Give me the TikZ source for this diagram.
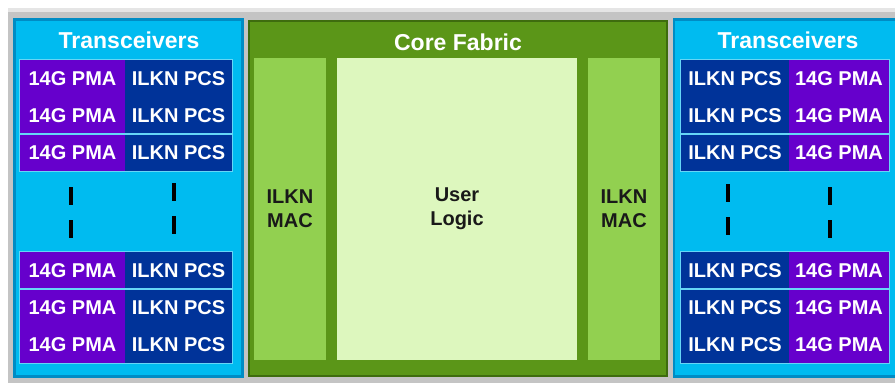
\documentclass[tikz,border=0pt]{standalone}
\usepackage{fontspec}
\setmainfont{Liberation Sans}

\definecolor{xcvr}{RGB}{0,187,240}
\definecolor{xcvrdark}{RGB}{0,140,196}
\definecolor{pmaviolet}{RGB}{102,0,204}
\definecolor{pcsblue}{RGB}{0,51,153}
\definecolor{fabric}{RGB}{91,150,24}
\definecolor{fabricdark}{RGB}{62,108,14}
\definecolor{macgreen}{RGB}{146,208,80}
\definecolor{logicgreen}{RGB}{221,247,190}
\definecolor{framegray}{RGB}{196,196,196}

\begin{document}
\begin{tikzpicture}[x=1pt, y=-1pt,
  cell/.style={rectangle, inner sep=0pt, minimum height=37pt, text=white,
    font=\fontsize{20}{24}\selectfont\bfseries},
  pma/.style={cell, fill=pmaviolet, minimum width=105pt},
  pcs/.style={cell, fill=pcsblue, minimum width=107pt},
  xcvrbox/.style={rectangle, draw=xcvrdark, line width=2.5pt, fill=xcvr, inner sep=0pt},
  fabricbox/.style={rectangle, draw=fabricdark, line width=2.5pt, fill=fabric, inner sep=0pt},
  mac/.style={rectangle, fill=macgreen, minimum width=72pt, minimum height=302pt, inner sep=0pt,
    align=center, font=\fontsize{20}{24}\selectfont\bfseries, text=black!90},
  title/.style={text=white, font=\fontsize{23}{27}\selectfont\bfseries, inner sep=0pt},
  sep/.style={draw=xcvr!60!white, line width=1pt},
  more/.style={line width=4pt, dash pattern=on 18pt off 15pt}]
\useasboundingbox (0,0) rectangle (895,383);
\fill[framegray] (8,8) rectangle (898,386);
\fill[black!10] (8,8) rectangle (898,12);

% left transceivers
\node[xcvrbox, minimum width=228pt, minimum height=357pt] (xl) at (128.5,198) {};
\node[title] (xlt) at (129,40) {Transceivers};
\node[pma] (pmaL1) at (72.5,78.5) {14G PMA};
\node[pma] (pmaL2) at (72.5,115.5) {14G PMA};
\node[pma] (pmaL3) at (72.5,152.5) {14G PMA};
\node[pma] (pmaL4) at (72.5,270.5) {14G PMA};
\node[pma] (pmaL5) at (72.5,307.5) {14G PMA};
\node[pma] (pmaL6) at (72.5,344.5) {14G PMA};
\node[pcs] (pcsL1) at (178.5,78.5) {ILKN PCS};
\node[pcs] (pcsL2) at (178.5,115.5) {ILKN PCS};
\node[pcs] (pcsL3) at (178.5,152.5) {ILKN PCS};
\node[pcs] (pcsL4) at (178.5,270.5) {ILKN PCS};
\node[pcs] (pcsL5) at (178.5,307.5) {ILKN PCS};
\node[pcs] (pcsL6) at (178.5,344.5) {ILKN PCS};
\draw[sep] (pmaL1.north west) rectangle (pcsL2.south east);
\draw[sep] (pmaL3.north west) rectangle (pcsL3.south east);
\draw[sep] (pmaL4.north west) rectangle (pcsL4.south east);
\draw[sep] (pmaL5.north west) rectangle (pcsL6.south east);
\draw[more] (71,187) -- (71,238);
\draw[more] (174,183) -- (174,234);

% core fabric
\node[fabricbox, minimum width=418pt, minimum height=355pt] (core) at (458,198.5) {};
\node[title] (coret) at (458,42) {Core Fabric};
\node[mac] (macL) at (290,209) {ILKN\\MAC};
\node[mac, fill=logicgreen, minimum width=240pt] (logic) at (457,209) {User\\Logic};
\node[mac] (macR) at (624,209) {ILKN\\MAC};

% right transceivers
\node[xcvrbox, minimum width=226pt, minimum height=357pt] (xr) at (787,198) {};
\node[title] (xrt) at (788,40) {Transceivers};
\node[pcs, minimum width=108pt] (pcsR1) at (735,78.5) {ILKN PCS};
\node[pcs, minimum width=108pt] (pcsR2) at (735,115.5) {ILKN PCS};
\node[pcs, minimum width=108pt] (pcsR3) at (735,152.5) {ILKN PCS};
\node[pcs, minimum width=108pt] (pcsR4) at (735,270.5) {ILKN PCS};
\node[pcs, minimum width=108pt] (pcsR5) at (735,307.5) {ILKN PCS};
\node[pcs, minimum width=108pt] (pcsR6) at (735,344.5) {ILKN PCS};
\node[pma, minimum width=100pt] (pmaR1) at (839,78.5) {14G PMA};
\node[pma, minimum width=100pt] (pmaR2) at (839,115.5) {14G PMA};
\node[pma, minimum width=100pt] (pmaR3) at (839,152.5) {14G PMA};
\node[pma, minimum width=100pt] (pmaR4) at (839,270.5) {14G PMA};
\node[pma, minimum width=100pt] (pmaR5) at (839,307.5) {14G PMA};
\node[pma, minimum width=100pt] (pmaR6) at (839,344.5) {14G PMA};
\draw[sep] (pcsR1.north west) rectangle (pmaR2.south east);
\draw[sep] (pcsR3.north west) rectangle (pmaR3.south east);
\draw[sep] (pcsR4.north west) rectangle (pmaR4.south east);
\draw[sep] (pcsR5.north west) rectangle (pmaR6.south east);
\draw[more] (728,184) -- (728,235);
\draw[more] (830,187) -- (830,238);
\end{tikzpicture}
\end{document}
